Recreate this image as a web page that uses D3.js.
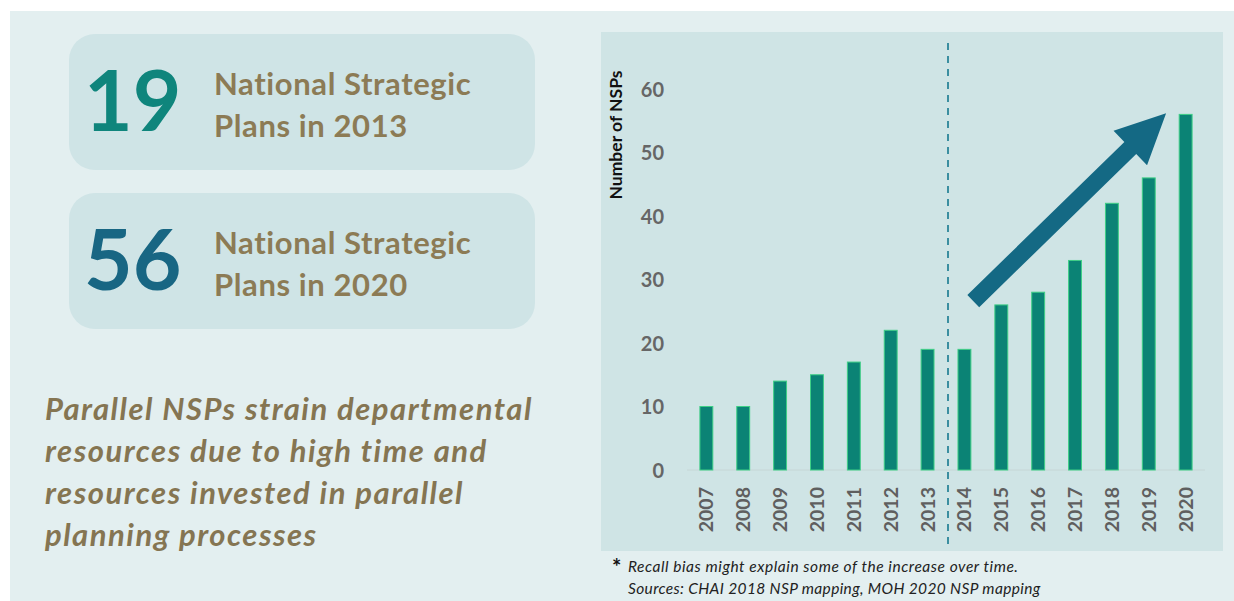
<!DOCTYPE html>
<html lang="en">
<head>
    <meta charset="UTF-8">
    <title>National Strategic Plans</title>
    <script src="https://d3js.org/d3.v7.min.js"></script>
    <style>
        body { margin: 0; background: #fff; }
        svg text { font-family: Lato, "Open Sans", sans-serif; }
    </style>
</head>
<body>
<script>
    // data
    const years = [2007, 2008, 2009, 2010, 2011, 2012, 2013, 2014, 2015, 2016, 2017, 2018, 2019, 2020];
    const nsps = [10, 10, 14, 15, 17, 22, 19, 19, 26, 28, 33, 42, 46, 56];
    const yTicks = [0, 10, 20, 30, 40, 50, 60];
    const highlights = [
        { num: "19", line1: "National Strategic", line2: "Plans in 2013", color: "#0f857c" },
        { num: "56", line1: "National Strategic", line2: "Plans in 2020", color: "#186683" }
    ];
    const message = ["Parallel NSPs strain departmental", "resources due to high time and",
        "resources invested in parallel", "planning processes"];
    const arrowFrom = [2014.24, 26.6];  // [year, value]
    const arrowTo = [2019.47, 56.2];
    const splitAfter = 2013;

    const width = 1234, height = 601;
    const svg = d3.select("body").append("svg")
        .attr("width", width).attr("height", height);

    svg.append("rect").attr("x", 10).attr("y", 11)
        .attr("width", width - 10).attr("height", height - 11)
        .attr("fill", "#e3eff0");

    // left side boxes
    highlights.forEach((h, i) => {
        const top = 34 + i * 159;
        svg.append("rect").attr("x", 69).attr("y", top)
            .attr("width", 466).attr("height", 136).attr("rx", 26)
            .attr("fill", "#cfe4e6");
        svg.append("text").attr("x", 84).attr("y", top + 97)
            .attr("font-size", 84).attr("font-weight", 700)
            .attr("fill", h.color).text(h.num);
        [h.line1, h.line2].forEach((t, j) => {
            svg.append("text").attr("x", 214).attr("y", top + 61 + j * 42)
                .attr("font-size", 31).attr("font-weight", 700)
                .attr("letter-spacing", 0.6)
                .attr("fill", "#8c7b55").text(t);
        });
    });

    svg.selectAll("text.msg").data(message).enter().append("text")
        .attr("class", "msg")
        .attr("x", 45).attr("y", (d, i) => 420 + i * 42)
        .attr("font-size", 31).attr("font-weight", 700).attr("font-style", "italic")
        .attr("letter-spacing", 1.5)
        .attr("fill", "#857552").text(d => d);

    // chart panel
    svg.append("rect").attr("x", 601).attr("y", 32)
        .attr("width", 622).attr("height", 519).attr("fill", "#cfe4e5");

    const x = d3.scaleBand().domain(years).range([687, 1205]).paddingInner(0.65).paddingOuter(0.35);
    const y = d3.scaleLinear().domain([0, 60]).range([470, 89]);
    const xc = d3.scaleLinear().domain([years[0], years[years.length - 1]])
        .range([x(years[0]) + x.bandwidth() / 2, x(years[years.length - 1]) + x.bandwidth() / 2]);

    // y axis labels
    const yAxis = svg.append("g").attr("transform", "translate(664,0)")
        .call(d3.axisLeft(y).tickValues(yTicks).tickSize(0).tickPadding(0));
    yAxis.select(".domain").remove();
    yAxis.selectAll("text").attr("font-size", 20).attr("font-weight", 700)
        .attr("fill", "#666").attr("dy", "0.35em");

    svg.append("text").attr("transform", "translate(622,135) rotate(-90)")
        .attr("text-anchor", "middle").attr("font-size", 17.5).attr("font-weight", 700)
        .attr("fill", "#111").text("Number of NSPs");

    // baseline
    svg.append("line").attr("x1", 687).attr("x2", 1205)
        .attr("y1", y(0)).attr("y2", y(0))
        .attr("stroke", "#c6d6d6").attr("stroke-width", 1);

    // bars
    svg.selectAll("rect.bar").data(years).enter().append("rect")
        .attr("class", "bar")
        .attr("x", d => x(d)).attr("width", x.bandwidth())
        .attr("y", (d, i) => y(nsps[i]))
        .attr("height", (d, i) => y(0) - y(nsps[i]))
        .attr("fill", "#0b8375").attr("stroke", "#3fcf86").attr("stroke-width", 1);

    // x axis labels
    const xAxis = svg.append("g").attr("transform", "translate(0," + (y(0) + 17) + ")")
        .call(d3.axisBottom(x).tickSize(0).tickPadding(0));
    xAxis.select(".domain").remove();
    xAxis.selectAll("text")
        .attr("transform", "rotate(-90)")
        .attr("text-anchor", "end").attr("x", 0).attr("y", 0).attr("dy", "0.36em")
        .attr("font-size", 19.5).attr("font-weight", 700).attr("fill", "#5f5f5f");

    // dashed split line
    const splitX = (xc(splitAfter) + xc(splitAfter + 1)) / 2 + 2;
    svg.append("line").attr("x1", splitX).attr("x2", splitX)
        .attr("y1", 43).attr("y2", 545)
        .attr("stroke", "#3b8ea0").attr("stroke-width", 2).attr("stroke-dasharray", "7,6");

    // trend arrow
    const ax0 = xc(arrowFrom[0]), ay0 = y(arrowFrom[1]);
    const ax1 = xc(arrowTo[0]), ay1 = y(arrowTo[1]);
    const len = Math.hypot(ax1 - ax0, ay1 - ay0);
    const ang = Math.atan2(ay1 - ay0, ax1 - ax0) * 180 / Math.PI;
    const sw = 8.5, hw = 24, hl = 50;
    svg.append("path")
        .attr("transform", `translate(${ax0},${ay0}) rotate(${ang})`)
        .attr("d", `M0,${-sw}L${len - hl},${-sw}L${len - hl},${-hw}L${len},0L${len - hl},${hw}L${len - hl},${sw}L0,${sw}Z`)
        .attr("fill", "#146984");

    // footnote
    svg.append("text").attr("x", 612).attr("y", 575)
        .attr("font-size", 22).attr("font-weight", 700).attr("fill", "#111").text("*");
    svg.append("text").attr("x", 628).attr("y", 572)
        .attr("font-size", 15.5).attr("font-style", "italic").attr("fill", "#222")
        .attr("letter-spacing", 0.55)
        .text("Recall bias might explain some of the increase over time.");
    svg.append("text").attr("x", 628).attr("y", 594)
        .attr("font-size", 15.5).attr("font-style", "italic").attr("fill", "#222")
        .attr("letter-spacing", 0.35)
        .text("Sources: CHAI 2018 NSP mapping, MOH 2020 NSP mapping");
</script>
</body>
</html>
